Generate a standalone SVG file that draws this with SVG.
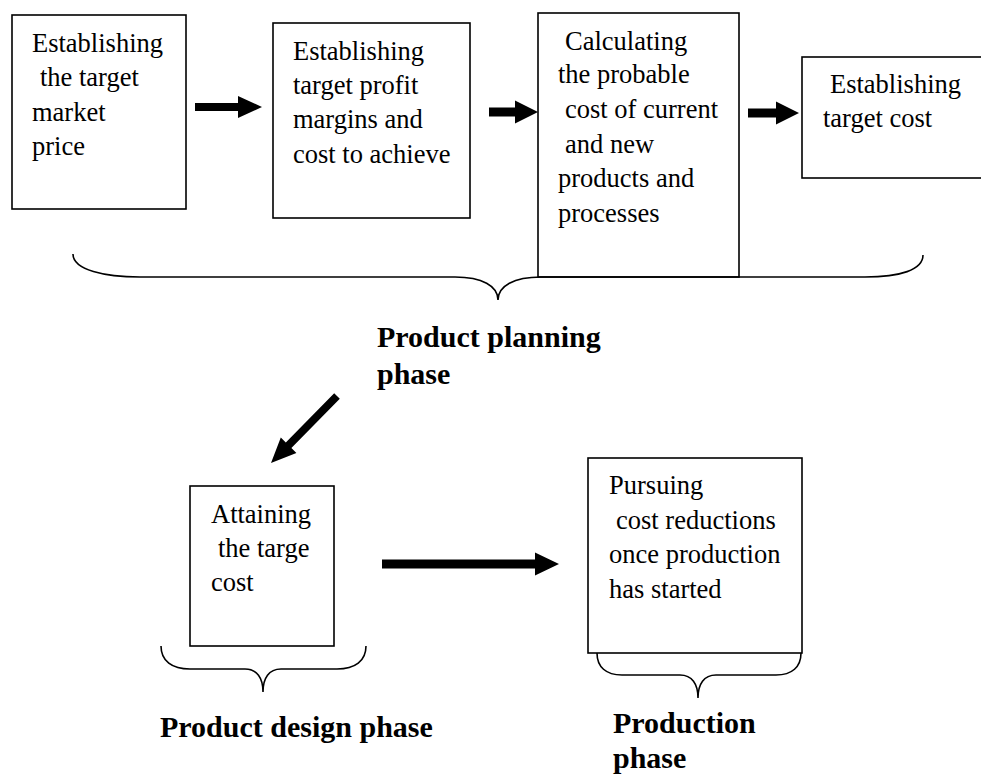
<svg xmlns="http://www.w3.org/2000/svg" width="981" height="775" viewBox="0 0 981 775">
  <style>
    .box { fill: #ffffff; stroke: #000000; stroke-width: 1.6; }
    .txt { font-family: 'Liberation Serif', 'DejaVu Serif', serif; font-size: 26.5px; fill: #000000; }
    .lbl { font-family: 'Liberation Serif', 'DejaVu Serif', serif; font-size: 30px; font-weight: bold; fill: #000000; }
    .brace { fill: none; stroke: #000000; stroke-width: 1.6; }
    .arrow { fill: #000000; stroke: none; }
  </style>
  <rect width="981" height="775" fill="#ffffff"/>

  <!-- planning phase steps -->
  <g id="node-market-price">
    <rect class="box" x="12" y="15" width="174" height="194"/>
    <text class="txt" x="32" y="52">Establishing</text>
    <text class="txt" x="40" y="86">the target</text>
    <text class="txt" x="32" y="121">market</text>
    <text class="txt" x="32" y="155">price</text>
  </g>
  <g id="node-profit-margins">
    <rect class="box" x="273" y="23" width="197" height="195"/>
    <text class="txt" x="293" y="60">Establishing</text>
    <text class="txt" x="293" y="94">target profit</text>
    <text class="txt" x="293" y="128">margins and</text>
    <text class="txt" x="293" y="163">cost to achieve</text>
  </g>
  <g id="node-probable-cost">
    <rect class="box" x="538" y="13" width="201" height="264"/>
    <text class="txt" x="565" y="50">Calculating</text>
    <text class="txt" x="558" y="83">the probable</text>
    <text class="txt" x="565" y="118">cost of current</text>
    <text class="txt" x="565" y="153">and new</text>
    <text class="txt" x="558" y="187">products and</text>
    <text class="txt" x="558" y="222">processes</text>
  </g>
  <g id="node-target-cost">
    <rect class="box" x="802" y="57" width="190" height="121"/>
    <text class="txt" x="830" y="93">Establishing</text>
    <text class="txt" x="823" y="127">target cost</text>
  </g>

  <!-- phase brace and label: planning -->
  <g id="phase-planning">
    <path class="brace" d="M73,254 C73,270 105,277 140,277 L455,277 C482,277 498,286 498,300 C498,286 514,277 541,277 L865,277 C900,277 923,270 923,255"/>
    <text class="lbl" x="377" y="347">Product planning</text>
    <text class="lbl" x="377" y="384">phase</text>
  </g>

  <!-- design phase -->
  <g id="node-attain-cost">
    <rect class="box" x="190" y="486" width="144" height="160"/>
    <text class="txt" x="211" y="523">Attaining</text>
    <text class="txt" x="218" y="557">the targe</text>
    <text class="txt" x="211" y="591">cost</text>
  </g>
  <g id="phase-design">
    <path class="brace" d="M161,646 C161,661 172,669 190,669 L245,669 C257,669 263,678 263,692 C263,678 269,669 281,669 L337,669 C355,669 366,661 366,646"/>
    <text class="lbl" x="160" y="737">Product design phase</text>
  </g>

  <!-- production phase -->
  <g id="node-cost-reductions">
    <rect class="box" x="588" y="458" width="214" height="195"/>
    <text class="txt" x="609" y="494">Pursuing</text>
    <text class="txt" x="616" y="529">cost reductions</text>
    <text class="txt" x="609" y="563">once production</text>
    <text class="txt" x="609" y="598">has started</text>
  </g>
  <g id="phase-production">
    <path class="brace" d="M597,653 C597,667 606,675 622,675 L680,675 C692,675 698,684 698,698 C698,684 704,675 716,675 L776,675 C792,675 801,667 801,653"/>
    <text class="lbl" x="613" y="733">Production</text>
    <text class="lbl" x="613" y="768">phase</text>
  </g>

  <!-- connectors -->
  <g id="connectors">
    <polygon class="arrow" points="195,103 238,103 238,96 262,107 238,118 238,111 195,111"/>
    <polygon class="arrow" points="489,107.5 515,107.5 515,100.5 538,112 515,123.5 515,116.5 489,116.5"/>
    <polygon class="arrow" points="748,108.5 776,108.5 776,101.5 799,113 776,124.5 776,117.5 748,117.5"/>
    <polygon class="arrow" points="334.2,393.2 285.8,442.4 280.8,437.5 271,463 296.4,452.9 291.4,448 339.8,398.8"/>
    <polygon class="arrow" points="382,559.5 535,559.5 535,552.5 559,564 535,575.5 535,568.5 382,568.5"/>
  </g>
</svg>
